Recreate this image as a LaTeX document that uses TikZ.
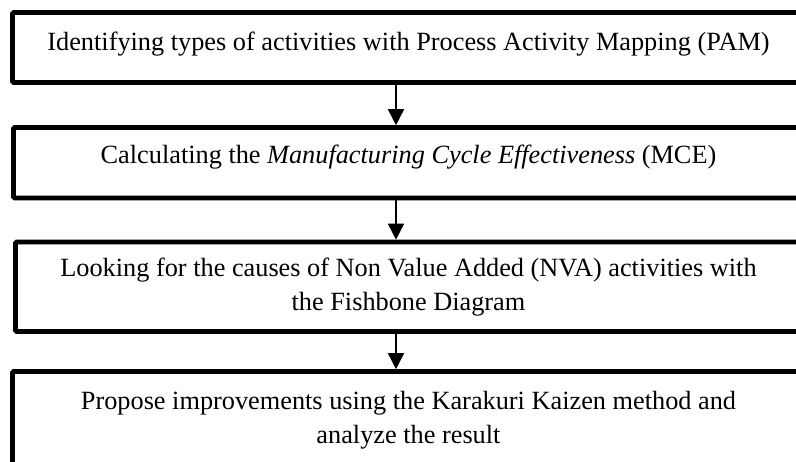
\documentclass[tikz,border=0pt]{standalone}
\usepackage{fontspec}
\setmainfont{Liberation Serif}
\usetikzlibrary{arrows.meta}
\tikzset{
  stepbox/.style={draw=black, line width=4.6pt, rounded corners=1.2pt, inner sep=0pt},
  steptext/.style={font=\fontsize{26.3}{33.5}\selectfont, align=center, anchor=base, inner sep=0pt},
  flowarrow/.style={line width=1.6pt, -{Triangle[width=16pt,length=16pt]}}
}
\begin{document}
\begin{tikzpicture}[x=1pt,y=-1pt]
\useasboundingbox (0,0) rectangle (796,461);
\node[stepbox, minimum width=791pt, minimum height=70pt] (b1) at (408,47.5) {};
\node[stepbox, minimum width=790pt, minimum height=70.5pt] (b2) at (408.5,162.75) {};
\node[stepbox, minimum width=788pt, minimum height=89.5pt] (b3) at (409.5,286.75) {};
\node[stepbox, minimum width=791pt, minimum height=100pt] (b4) at (408,421.5) {};
\node[steptext] (t1) at (408.5,50) {Identifying types of activities with Process Activity Mapping (PAM)};
\node[steptext] (t2) at (408.5,163) {Calculating the \textit{Manufacturing Cycle Effectiveness} (MCE)};
\node[steptext] (t3) at (408.5,310) {Looking for the causes of Non Value Added (NVA) activities with\\the Fishbone Diagram};
\node[steptext] (t4) at (408.5,443) {Propose improvements using the Karakuri Kaizen method and\\analyze the result};
\coordinate (ax) at (396,0);
\draw[flowarrow] (b1.south -| ax) -- (b2.north -| ax);
\draw[flowarrow] (b2.south -| ax) -- (b3.north -| ax);
\draw[flowarrow] (b3.south -| ax) -- (b4.north -| ax);
\end{tikzpicture}
\end{document}
